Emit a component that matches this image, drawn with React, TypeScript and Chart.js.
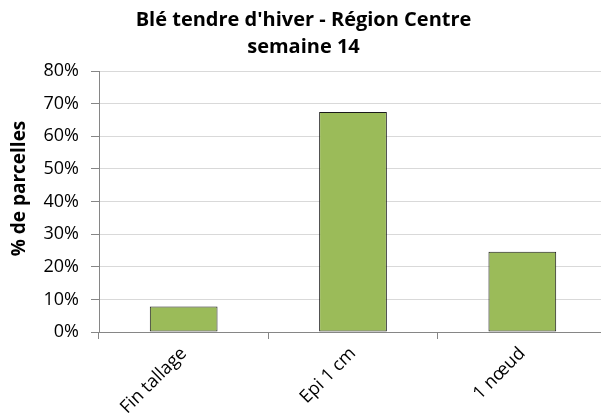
import React, { useEffect, useRef } from "react";
import { Chart, registerables } from "chart.js";

Chart.register(...registerables);

const categories = ["Fin tallage", "Epi 1 cm", "1 nœud"];
const values = [7.8, 67.4, 24.6];
const titleLines = ["Blé tendre d'hiver - Région Centre", "semaine 14"];
const yTitle = "% de parcelles";
const yMin = 0;
const yMax = 80;
const yStep = 10;

const FONT = "'Open Sans', 'DejaVu Sans', sans-serif";

const yTitlePlugin = {
  id: "yTitlePlugin",
  afterDraw(chart: any) {
    const ctx = chart.ctx;
    const area = chart.chartArea;
    ctx.save();
    ctx.font = `bold 19px ${FONT}`;
    ctx.fillStyle = "#000000";
    ctx.textAlign = "center";
    ctx.textBaseline = "middle";
    ctx.translate(20, (area.top + area.bottom) / 2 - 13);
    ctx.rotate(-Math.PI / 2);
    ctx.fillText(yTitle, 0, 0);
    ctx.restore();
  },
};

export default function App() {
  const ref = useRef<HTMLCanvasElement | null>(null);
  useEffect(() => {
    if (!ref.current) return;
    const chart = new Chart(ref.current, {
      type: "bar",
      data: {
        labels: categories,
        datasets: [
          {
            data: values,
            backgroundColor: "#9BBB59",
            borderColor: "#1a1a1a",
            borderWidth: 1,
            borderSkipped: false,
            categoryPercentage: 1,
            barPercentage: 0.4,
          },
        ],
      },
      plugins: [yTitlePlugin],
      options: {
        responsive: false,
        animation: false,
        devicePixelRatio: 1,
        layout: { padding: { left: 0, right: 1, top: 0, bottom: 0 } },
        plugins: {
          legend: { display: false },
          tooltip: { enabled: false },
          title: {
            display: true,
            text: titleLines,
            color: "#000000",
            font: { family: FONT, size: 20, weight: "bold", lineHeight: 1.35 },
            padding: { top: 7, bottom: 10 },
          },
        },
        scales: {
          x: {
            offset: true,
            grid: {
              offset: true,
              drawOnChartArea: false,
              drawTicks: true,
              tickLength: 7,
              color: "#868686",
            },
            border: { color: "#868686", width: 1 },
            ticks: {
              minRotation: 45,
              maxRotation: 45,
              color: "#000000",
              padding: 4,
              font: { family: FONT, size: 18 },
            },
            afterFit: (scale: any) => {
              scale.height = 84;
            },
          },
          y: {
            min: yMin,
            max: yMax,
            grid: {
              color: "#d9d9d9",
              tickColor: "#868686",
              tickLength: 8,
            },
            border: { color: "#868686", width: 1 },
            ticks: {
              stepSize: yStep,
              color: "#000000",
              padding: 12,
              font: { family: FONT, size: 18 },
              callback: (v: any) => `${v}%`,
            },
            afterFit: (scale: any) => {
              scale.width = 99;
            },
          },
        },
      },
    });
    return () => chart.destroy();
  }, []);
  return (
    <div
      style={{
        position: "absolute",
        left: 0,
        top: 0,
        width: 601,
        height: 416,
        overflow: "hidden",
        background: "#ffffff",
      }}
    >
      <canvas ref={ref} width={608} height={416} style={{ display: "block" }} />
    </div>
  );
}
